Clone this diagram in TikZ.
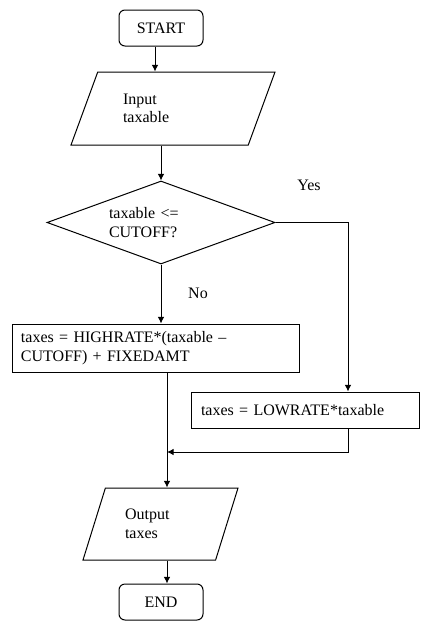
\documentclass[tikz,border=0pt]{standalone}
\usepackage{fontspec}
\setmainfont{Liberation Serif}
\usetikzlibrary{shapes.geometric,arrows.meta}
\begin{document}
\begin{tikzpicture}[x=0.75pt,y=-0.75pt]
        \tikzstyle{term} = [rectangle, rounded corners=4.5pt, draw=black, text=black, font=\fontsize{12pt}{14pt}\selectfont, minimum width=63pt, minimum height=27pt, line width=.75pt]
        \tikzstyle{io} = [trapezium, trapezium stretches body, draw=black, text=black, align=left, font=\fontsize{12pt}{14pt}\selectfont, line width=.75pt]
        \tikzstyle{decision} = [diamond, draw=black, text=black, align=left, inner sep=0pt, aspect=2.75, font=\fontsize{12pt}{14pt}\selectfont, line width=.75pt]
        \tikzstyle{process} = [rectangle, draw=black, text=black, align=left, inner ysep=0pt, font=\fontsize{12pt}{14pt}\selectfont, line width=.75pt]
        \tikzstyle{line} = [-{Latex[length=5pt,width=5pt]},draw=black,line width=.75pt]
        \useasboundingbox (0,0) rectangle (434,632);
        \node[term] (start) at (161,28) {START};
        \node[io, trapezium left angle=55, trapezium right angle=125, minimum width=153pt, minimum height=54.75pt, text width=75pt] (in) at (173,108.5) {Input\\taxable};
        \node[decision, minimum width=171pt, minimum height=62.25pt, text width=78pt] (dec) at (161,222.5) {taxable <=\\CUTOFF?};
        \node[process, minimum height=36pt, inner xsep=6.75pt, text width=201.75pt] (high) at (155.5,348) {taxes = HIGHRATE*(taxable –\\CUTOFF) + FIXEDAMT};
        \node[process, minimum height=27pt, inner xsep=7.5pt, text width=156pt] (low) at (305,410) {taxes = LOWRATE*taxable};
        \node[io, trapezium left angle=59.7, trapezium right angle=120.3, minimum width=116.25pt, minimum height=54pt, text width=53.25pt] (out) at (160.5,524) {Output\\taxes};
        \node[term] (end) at (161,602) {END};
        \node[font=\fontsize{12pt}{14pt}\selectfont] (yes) at (309,185) {Yes};
        \node[font=\fontsize{12pt}{14pt}\selectfont] (no) at (198,293) {No};
        \coordinate (join) at (167,452);
        \draw[line] (start.south -| 155,0) to (in.north -| 155,0);
        \draw[line] (in.south -| dec.north) to (dec.north);
        \draw[line] (dec.south) to (dec.south |- high.north);
        \draw[line] (dec.east) -| (348,0 |- low.north);
        \draw[line] (high.south -| 167,0) to (out.north -| 167,0);
        \draw[line] (low.south -| 348,0) |- (join);
        \draw[line] (out.south -| 167,0) to (end.north -| 167,0);
    \end{tikzpicture}
\end{document}
